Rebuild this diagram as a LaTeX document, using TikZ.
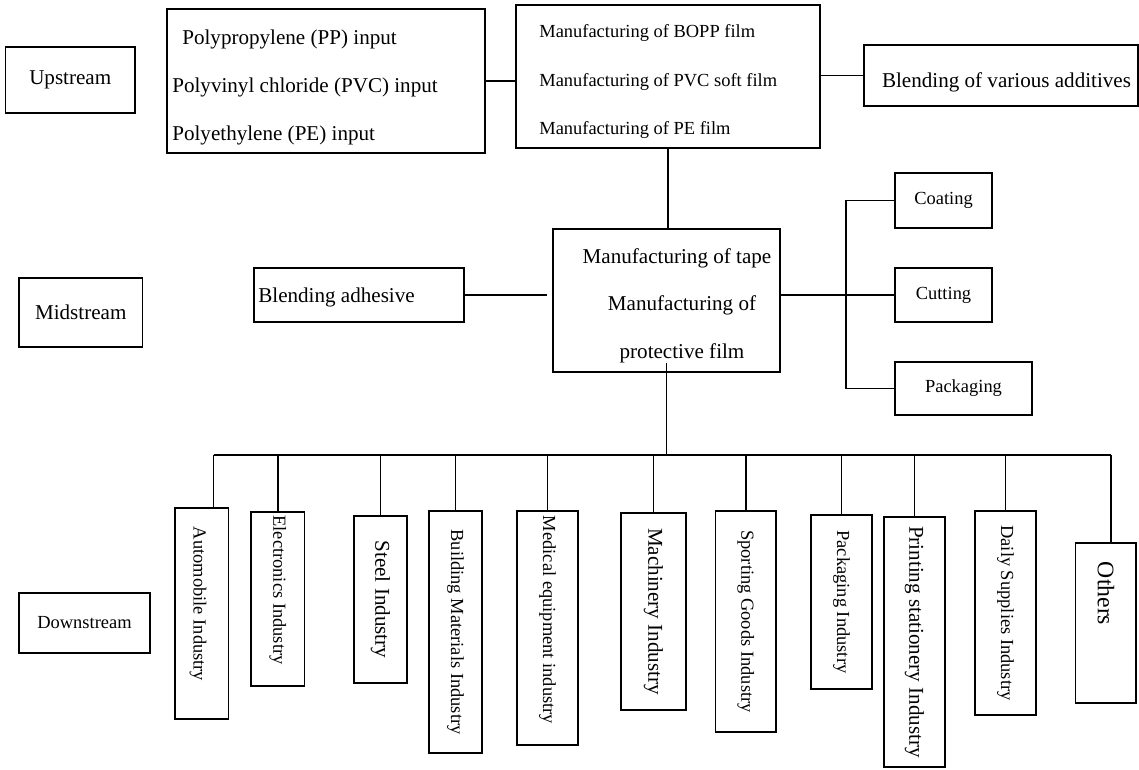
\documentclass[tikz,border=0pt]{standalone}
\usepackage{fontspec}
\setmainfont{Liberation Serif}
\newcommand{\downtext}[1]{\rotatebox{-90}{#1}}
\begin{document}
\begin{tikzpicture}[
            box/.style={
                rectangle,
                draw=black,
                line width=1.1pt,
                inner sep=0pt
            },
            bigtxt/.style={
                font=\fontsize{12}{14}\selectfont,
                inner sep=0pt
            },
            smalltxt/.style={
                font=\fontsize{10.5}{12.6}\selectfont,
                inner sep=0pt
            },
            link/.style={line width=1.1pt}
        ]

        % Page frame
        \useasboundingbox (0,0) rectangle (22.78,-15.38);

        % Stage labels
        \node[box, bigtxt, minimum width=2.59cm, minimum height=1.32cm] (up) at (1.405,-1.6) {Upstream};
        \node[box, bigtxt, minimum width=2.47cm, minimum height=1.38cm] (mid) at (1.615,-6.25) {Midstream};
        \node[box, smalltxt, minimum width=2.62cm, minimum height=1.2cm] (down) at (1.69,-12.46) {Downstream};

        % Upstream boxes
        \node[box, minimum width=6.36cm, minimum height=2.88cm] (pp) at (6.52,-1.62) {};
        \node[bigtxt, anchor=west] (pp1) at (3.64,-0.78) {Polypropylene (PP) input};
        \node[bigtxt, anchor=west] (pp2) at (3.44,-1.74) {Polyvinyl chloride (PVC) input};
        \node[bigtxt, anchor=west] (pp3) at (3.44,-2.7) {Polyethylene (PE) input};

        \node[box, minimum width=6.08cm, minimum height=2.86cm] (bopp) at (13.36,-1.53) {};
        \node[smalltxt, anchor=west] (bopp1) at (10.78,-0.66) {Manufacturing of BOPP film};
        \node[smalltxt, anchor=west] (bopp2) at (10.78,-1.64) {Manufacturing of PVC soft film};
        \node[smalltxt, anchor=west] (bopp3) at (10.78,-2.6) {Manufacturing of PE film};

        \node[box, minimum width=5.48cm, minimum height=1.22cm] (blend) at (20.02,-1.51) {};
        \node[bigtxt] (blendtxt) at (20.13,-1.64) {Blending of various additives};

        % Midstream boxes
        \node[box, minimum width=4.2cm, minimum height=1.08cm] (adh) at (7.18,-5.9) {};
        \node[bigtxt, anchor=west] (adhtxt) at (5.16,-5.94) {Blending adhesive};

        \node[box, minimum width=4.54cm, minimum height=2.86cm] (tape) at (13.33,-6.01) {};
        \node[bigtxt] (tape1) at (13.54,-5.16) {Manufacturing of tape};
        \node[bigtxt] (tape2) at (13.64,-6.1) {Manufacturing of};
        \node[bigtxt] (tape3) at (13.64,-7.06) {protective film};

        \node[box, smalltxt, minimum width=1.94cm, minimum height=1.1cm] (coating) at (18.87,-4.01) {Coating};
        \node[box, smalltxt, minimum width=1.94cm, minimum height=1.08cm] (cutting) at (18.87,-5.9) {Cutting};
        \node[box, smalltxt, minimum width=2.74cm, minimum height=1.06cm] (packaging) at (19.27,-7.77) {Packaging};

        % Downstream boxes
        \node[box, minimum width=1.07cm, minimum height=4.22cm] (auto) at (4.035,-12.27) {};
        \node[smalltxt] (autotxt) at (3.96,-12.08) {\downtext{Automobile Industry}};
        \node[box, minimum width=1.07cm, minimum height=3.48cm] (elec) at (5.555,-11.98) {};
        \node[smalltxt] (electxt) at (5.555,-11.8) {\downtext{Electronics Industry}};
        \node[box, bigtxt, minimum width=1.06cm, minimum height=3.34cm] (steel) at (7.61,-11.99) {\downtext{Steel Industry}};
        \node[box, smalltxt, minimum width=1.06cm, minimum height=4.84cm] (build) at (9.11,-12.64) {\downtext{Building Materials Industry}};
        \node[box, minimum width=1.22cm, minimum height=4.68cm] (med) at (10.95,-12.56) {};
        \node[smalltxt] (medtxt) at (10.95,-12.4) {\downtext{Medical equipment industry}};
        \node[box, bigtxt, minimum width=1.3cm, minimum height=3.94cm] (mach) at (13.07,-12.23) {\downtext{Machinery Industry}};
        \node[box, smalltxt, minimum width=1.21cm, minimum height=4.42cm] (sport) at (14.915,-12.43) {\downtext{Sporting Goods Industry}};
        \node[box, smalltxt, minimum width=1.22cm, minimum height=3.48cm] (packind) at (16.83,-12.04) {\downtext{Packaging Industry}};
        \node[box, bigtxt, minimum width=1.22cm, minimum height=5cm] (print) at (18.29,-12.84) {\downtext{Printing stationery Industry}};
        \node[box, smalltxt, minimum width=1.22cm, minimum height=4.08cm] (daily) at (20.11,-12.26) {\downtext{Daily Supplies Industry}};
        \node[box, minimum width=1.21cm, minimum height=3.2cm] (others) at (22.115,-12.46) {};
        \node[font=\fontsize{13.5}{16}\selectfont, inner sep=0pt] (otherstxt) at (22.12,-11.87) {\downtext{Others}};

        % Upstream links
        \draw[link] (pp.east) -- (pp.east -| bopp.west);
        \draw[link] (blend.west -| bopp.east) -- (blend.west);
        \draw[link] (bopp.south) -- (bopp.south |- tape.north);

        % Midstream links
        \draw[link, shorten >=0.1cm] (adh.east) -- (adh.east -| tape.west);
        \draw[link] (cutting.west -| tape.east) -- (cutting.west);
        \draw[link] (coating.west) -- ++(-0.96,0) |- (packaging.west);

        % Downstream bus
        \coordinate (busL) at (4.27,-9.1);
        \coordinate (busR) at (22.22,-9.1);
        \draw[link] ([yshift=0.2cm]tape.south) -- (tape.south |- busL);
        \draw[link] (busL) -- (busR);
        \draw[link] (busL) -- (busL |- auto.north);
        \draw[link] (elec.north |- busL) -- (elec.north);
        \draw[link] (steel.north |- busL) -- (steel.north);
        \draw[link] (build.north |- busL) -- (build.north);
        \draw[link] (med.north |- busL) -- (med.north);
        \draw[link] (mach.north |- busL) -- (mach.north);
        \draw[link] (sport.north |- busL) -- (sport.north);
        \draw[link] (packind.north |- busL) -- (packind.north);
        \draw[link] (print.north |- busL) -- (print.north);
        \draw[link] (daily.north |- busL) -- (daily.north);
        \draw[link] (busR) -- (busR |- others.north);

\end{tikzpicture}
\end{document}
